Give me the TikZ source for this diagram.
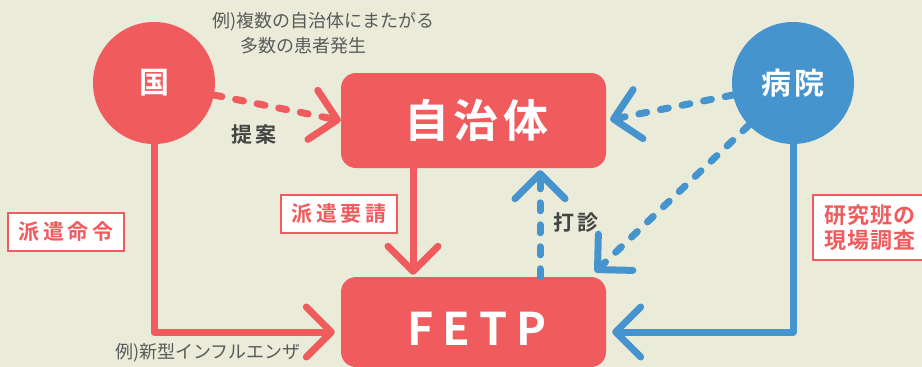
\documentclass[tikz,border=0pt]{standalone}
\usepackage{fontspec}
\setmainfont{Noto Sans CJK JP}[BoldFont={Noto Sans CJK JP Bold}]
\usetikzlibrary{arrows.meta}
\definecolor{fred}{HTML}{F05B5E}
\definecolor{fblue}{HTML}{4594CE}
\definecolor{bgc}{HTML}{EBEBDA}
\definecolor{dgray}{HTML}{444444}
\definecolor{mgray}{HTML}{5A5A5A}
\newcommand{\myfs}[2]{\fontsize{#1}{#2}\selectfont}
\begin{document}
\begin{tikzpicture}[x=1pt,y=-1pt,
  bar/.style={line width=7pt, line cap=round, line join=round},
  tipa/.style={-{Straight Barb[length=25pt,width=50pt,round]}},
  dsh/.style={dash pattern=on 8pt off 14pt},
  circ/.style={circle, inner sep=0pt, minimum size=122pt, text=white, font=\bfseries\myfs{30}{32}},
  bigbox/.style={rectangle, rounded corners=15pt, fill=fred, minimum width=265pt, inner sep=0pt},
  tag/.style={draw=fred, line width=2pt, fill=white, text=fred, font=\bfseries\myfs{21}{24}\addfontfeature{LetterSpace=18}, inner sep=0pt, minimum width=116pt, minimum height=38pt},
  note/.style={text=mgray, font=\myfs{18}{20}, inner sep=0pt, anchor=west},
  lab/.style={text=dgray, font=\bfseries\myfs{21}{24}\addfontfeature{LetterSpace=12}, inner sep=0pt}]
\fill[bgc] (0,0) rectangle (922,367);
\useasboundingbox (0,0) rectangle (922,367);
\clip (0,0) rectangle (922,367);

\node[circ, fill=fred] (guo) at (154,83) {国};
\node[circ, fill=fblue] (byoin) at (793,83) {\addfontfeature{LetterSpace=10}病院};
\node[bigbox, minimum height=95pt] (jichi) at (473.5,120.5) {};
\node[text=white, font=\bfseries\myfs{45}{50}\addfontfeature{LetterSpace=10}, inner sep=0pt] (jichit) at (476,120) {自治体};
\node[bigbox, minimum height=90pt] (fetp) at (473.5,322) {};
\node[text=white, font=\bfseries\myfs{45}{50}\addfontfeature{LetterSpace=20}, inner sep=0pt] (fetpt) at (477,328.5) {FETP};

\draw[bar, fred, tipa, shorten >=6pt] (guo.south) |- ([yshift=-10pt]fetp.west);
\draw[bar, fred, tipa, shorten >=2pt] ([xshift=-60.5pt]jichi.south) -- ([xshift=-60.5pt]fetp.north);
\draw[bar, fred, dsh, tipa] (guo) -- (jichi.west);
\draw[bar, fblue, dsh, tipa, shorten >=4pt] (byoin) -- (jichi.east);
\coordinate (fetpcorner) at (595,272);
\draw[bar, fblue, dsh, tipa] (byoin) -- (fetpcorner);
\draw[bar, fblue, dsh, tipa, shorten >=2pt] ([xshift=66.5pt]fetp.north) -- ([xshift=66.5pt]jichi.south);
\draw[bar, fblue, tipa, shorten >=6pt] (byoin.south) |- ([yshift=-10pt]fetp.east);

\node[tag] (haken) at (66,232) {派遣命令};
\node[tag] (yosei) at (339,214) {派遣要請};
\node[tag, minimum width=114pt, minimum height=65pt, align=center, font=\bfseries\myfs{22}{25}\addfontfeature{LetterSpace=5}] (kenkyu) at (870,227.5) {研究班の\\現場調査};
\node[lab] (teian) at (254,135) {提案};
\node[lab] (dashin) at (576,223) {打診};
\node[note] (ex1) at (212,22) {例)複数の自治体にまたがる};
\node[note] (ex2) at (240,46) {多数の患者発生};
\node[note] (ex3) at (115,353) {例)新型インフルエンザ};
\end{tikzpicture}
\end{document}
